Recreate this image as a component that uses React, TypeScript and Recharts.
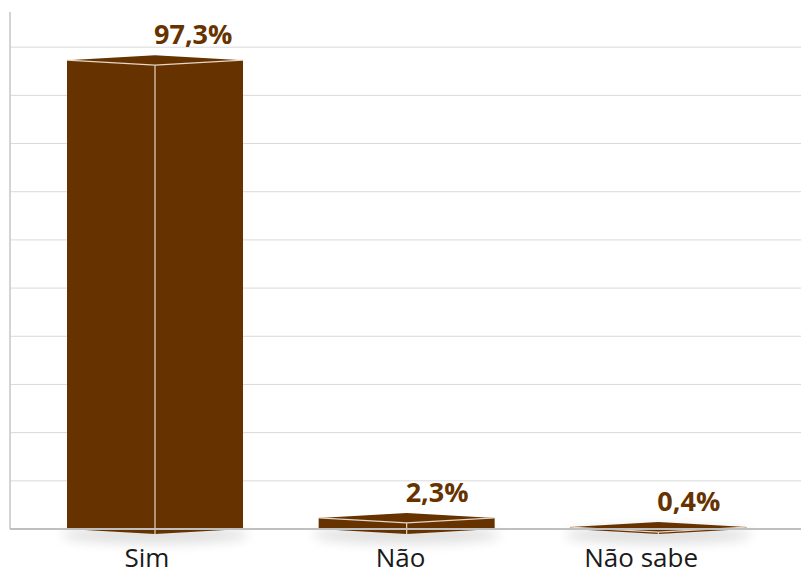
import React from 'react';
import { BarChart, Bar, XAxis, YAxis, CartesianGrid, LabelList } from 'recharts';

const categories = ['Sim', 'Não', 'Não sabe'];
const values = [97.3, 2.3, 0.4];
const valueLabels = ['97,3%', '2,3%', '0,4%'];
const gridTicks = [0, 10, 20, 30, 40, 50, 60, 70, 80, 90, 100];

const data = categories.map((name, i) => ({ name, value: values[i], label: valueLabels[i] }));

const BROWN = '#663300';
const EDGE = '#e6d6c6';
// small horizontal nudges of the category texts, as in the original layout
const tickNudge = [-8, -6, -17];

// front face in two halves + a thin top face, to fake the 3D column
const Column = (props: any) => {
  const { x, y, width, height, index } = props;
  const d = 5;
  const cx = x + width / 2;
  const b = y + height;
  const fid = 'shadow' + index;
  return (
    <g>
      <defs>
        <filter id={fid} x="-20%" y="-50%" width="140%" height="300%">
          <feGaussianBlur stdDeviation="6" />
        </filter>
      </defs>
      <ellipse cx={cx} cy={b + 6} rx={width / 2 + 6} ry={9} fill="#000" opacity={0.12} filter={`url(#${fid})`} />
      <path
        d={`M${x},${y} L${cx},${y - d} L${x + width},${y} L${x + width},${b} L${cx},${b + d} L${x},${b} Z`}
        fill={BROWN}
      />
      <polyline points={`${x},${y} ${cx},${y + d} ${x + width},${y}`} fill="none" stroke={EDGE} strokeWidth={1.2} />
      <line x1={cx} y1={y + d} x2={cx} y2={b + d} stroke={EDGE} strokeWidth={1.2} />
    </g>
  );
};

const CategoryTick = (props: any) => {
  const { x, payload, index } = props;
  return (
    <text x={x + (tickNudge[index] ?? 0)} y={567} textAnchor="middle" fill="#1a1a1a" fontSize={26} fontFamily="'Open Sans', sans-serif">
      {payload.value}
    </text>
  );
};

const ValueLabel = (props: any) => {
  const { x, y, width, value } = props;
  return (
    <text x={x + width / 2 - 1} y={y - 16} textAnchor="start" fill={BROWN} fontSize={27} fontWeight="bold" fontFamily="'Open Sans', sans-serif">
      {value}
    </text>
  );
};

export default function App() {
  return (
    <div style={{ position: 'absolute', left: 0, top: 0, width: 801, height: 575, background: '#fff' }}>
      <BarChart width={801} height={575} data={data} margin={{ top: 12, right: 0, bottom: 0, left: 0 }} barSize={176}>
        <CartesianGrid vertical={false} stroke="#d9d9d9" strokeWidth={1} horizontalValues={gridTicks} />
        <YAxis
          width={10}
          domain={[0, 107.3]}
          ticks={gridTicks}
          tick={() => <g />}
          tickLine={false}
          axisLine={{ stroke: '#d4d4d4', strokeWidth: 2 }}
        />
        <XAxis
          dataKey="name"
          height={46}
          tickLine={false}
          axisLine={{ stroke: '#bfbfbf', strokeWidth: 2 }}
          padding={{ left: 19, right: 17 }}
          tick={<CategoryTick />}
          interval={0}
        />
        <Bar dataKey="value" shape={<Column />} isAnimationActive={false}>
          <LabelList dataKey="label" content={<ValueLabel />} />
        </Bar>
      </BarChart>
    </div>
  );
}
